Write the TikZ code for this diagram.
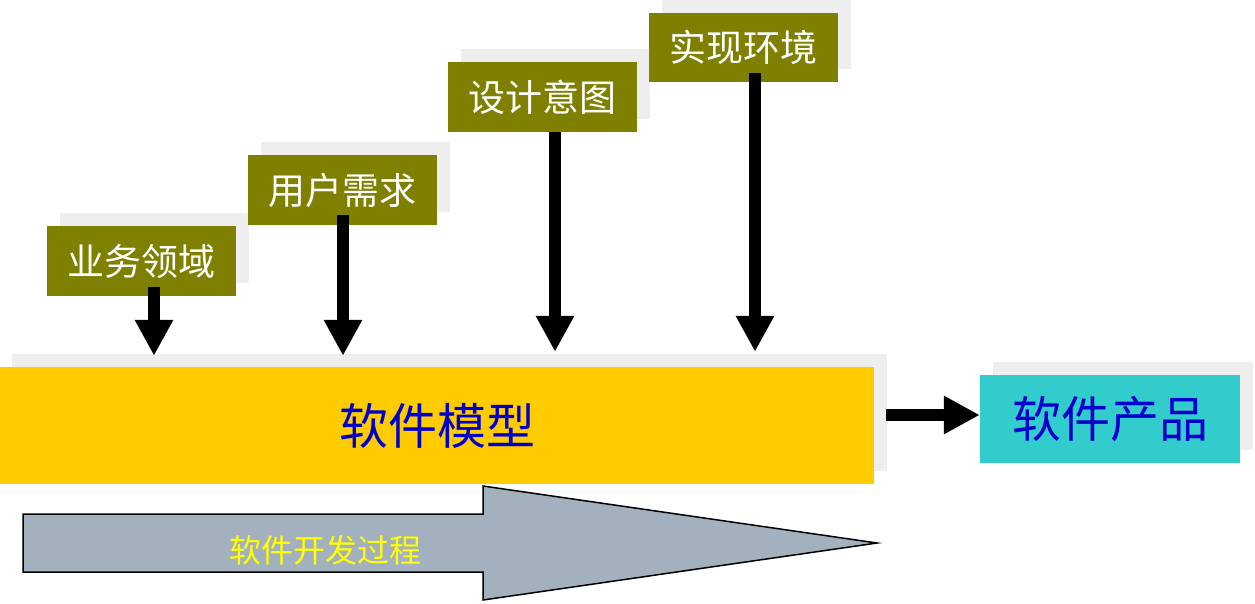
\documentclass[tikz,border=0pt]{standalone}
\usepackage{fontspec}
\newfontfamily\cjk{Noto Sans CJK SC}
\usetikzlibrary{arrows.meta,calc,shadows}
\definecolor{olivebox}{HTML}{808000}
\definecolor{modelyellow}{HTML}{FFCC00}
\definecolor{prodcyan}{HTML}{33CCCC}
\definecolor{shadowgray}{HTML}{EEEEEE}
\definecolor{txtblue}{HTML}{0000CC}
\definecolor{procfill}{HTML}{A3B1BF}
\definecolor{proctext}{HTML}{FFFF00}
\tikzset{
  boxshadow/.style={drop shadow={shadow xshift=13pt,shadow yshift=13pt,fill=shadowgray,opacity=1}},
  inbox/.style={boxshadow,fill=olivebox,text=white,inner sep=0pt,minimum width=189pt,minimum height=70pt,font=\cjk\fontsize{37}{37}\selectfont},
  bigbox/.style={boxshadow,inner sep=0pt,text=txtblue,font=\cjk\fontsize{49}{49}\selectfont},
  fatarrow/.style={line width=12pt,-{Triangle[width=36pt,length=36pt]}},
}
\begin{document}
\begin{tikzpicture}[x=1pt,y=-1pt]
\useasboundingbox (0,0) rectangle (1255,603);
% input boxes
\node[inbox] (b1) at (141.5,261) {业务领域};
\node[inbox] (b2) at (342.5,190) {用户需求};
\node[inbox] (b3) at (542.5,97) {设计意图};
\node[inbox,minimum height=69pt] (b4) at (743.5,47.5) {实现环境};
% model and product
\node[bigbox,fill=modelyellow,minimum width=874pt,minimum height=117pt,drop shadow={shadow xshift=12pt,shadow yshift=13pt,fill=shadowgray,opacity=1}] (ym) at (437,425.5) {软件模型};
\node[bigbox,fill=prodcyan,minimum width=260pt,minimum height=88pt] (ps) at (1110,419) {软件产品};
% arrow coordinates
\coordinate (a1s) at ($(b1.south)+(12.5,-9)$);
\coordinate (a2s) at ($(b2.south)+(0.5,-10)$);
\coordinate (a3s) at ($(b3.south)+(12.5,0)$);
\coordinate (a4s) at ($(b4.south)+(11.5,-9)$);
\coordinate (a1e) at ($(a1s |- ym.north)+(0,-11)$);
\coordinate (a2e) at ($(a2s |- ym.north)+(0,-11)$);
\coordinate (a3e) at ($(a3s |- ym.north)+(0,-15)$);
\coordinate (a4e) at ($(a4s |- ym.north)+(0,-15)$);
\draw[fatarrow] (a1s) -- (a1e);
\draw[fatarrow] (a2s) -- (a2e);
\draw[fatarrow] (a3s) -- (a3e);
\draw[fatarrow] (a4s) -- (a4e);
\coordinate (hs) at ($(ym.east)+(12,-10.5)$);
\draw[fatarrow] (hs) -- (hs -| ps.west);
% process arrow
\draw[fill=procfill,line width=1.5pt,line join=miter]
  (23,514) -- (483,514) -- (483,486) -- (877,543) -- (483,600) -- (483,572) -- (23,572) -- cycle;
\node[text=proctext,font=\cjk\fontsize{32}{32}\selectfont,inner sep=0pt] (pt) at (325,550) {软件开发过程};
\end{tikzpicture}
\end{document}
